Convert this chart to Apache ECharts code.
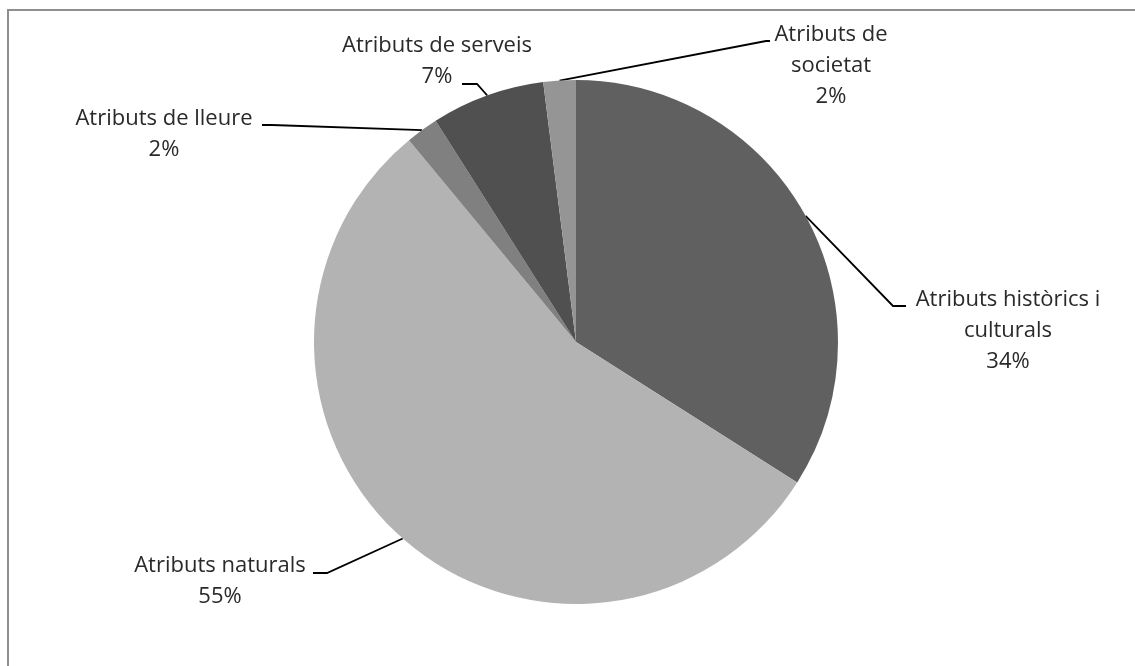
<!DOCTYPE html>
<html>
<head>
<meta charset="utf-8">
<script src="https://cdn.jsdelivr.net/npm/echarts@6/dist/echarts.min.js"></script>
<style>
  html, body { margin: 0; padding: 0; background: #fff; }
  #chart { width: 1135px; height: 666px; }
</style>
</head>
<body>
<div id="chart"></div>
<script>
// Attribute groups, clockwise from 12 o'clock
const categories = [
  'Atributs històrics i\nculturals',
  'Atributs naturals',
  'Atributs de lleure',
  'Atributs de serveis',
  'Atributs de\nsocietat'
];
const shares = [34, 55, 2, 7, 2];
const sliceColors = ['#606060', '#b3b3b3', '#808080', '#505050', '#959595'];

// Where each label sits (centre of its text block) and the elbow of its leader line
const labelSpots = [
  { x: 1008, y: 331, elbow: [893, 306], end: [906, 306] },
  { x: 220,  y: 581, elbow: [327, 573], end: [313, 573] },
  { x: 164,  y: 134, elbow: [272, 125], end: [262, 125] },
  { x: 437,  y: 61,  elbow: [477, 84],  end: [462, 84] },
  { x: 831,  y: 66,  elbow: [766, 41],  end: [770, 41] }
];

const chart = echarts.init(document.getElementById('chart'), null, { renderer: 'canvas' });

chart.setOption({
  animation: false,
  backgroundColor: '#ffffff',
  graphic: [{
    type: 'polyline',
    shape: { points: [[8, 700], [8, 10], [1200, 10]] },
    style: { fill: null, stroke: '#8e8e8e', lineWidth: 2 },
    silent: true
  }],
  series: [{
    type: 'pie',
    center: [576, 342],
    radius: [0, 262],
    startAngle: 90,
    clockwise: true,
    avoidLabelOverlap: false,
    data: categories.map((name, i) => ({
      name: name,
      value: shares[i],
      itemStyle: { color: sliceColors[i] }
    })),
    itemStyle: { borderWidth: 0 },
    label: {
      show: true,
      formatter: p => p.name + '\n' + p.value + '%',
      fontFamily: 'Open Sans',
      fontSize: 22,
      lineHeight: 31,
      color: '#2a2a2a',
      align: 'center'
    },
    labelLine: {
      show: true,
      lineStyle: { color: '#000000', width: 1.8 }
    },
    labelLayout: function (params) {
      const s = labelSpots[params.dataIndex];
      const start = params.labelLinePoints ? params.labelLinePoints[0] : s.elbow;
      return {
        x: s.x,
        y: s.y,
        align: 'center',
        verticalAlign: 'middle',
        labelLinePoints: [start, s.elbow, s.end]
      };
    }
  }]
});
</script>
</body>
</html>
